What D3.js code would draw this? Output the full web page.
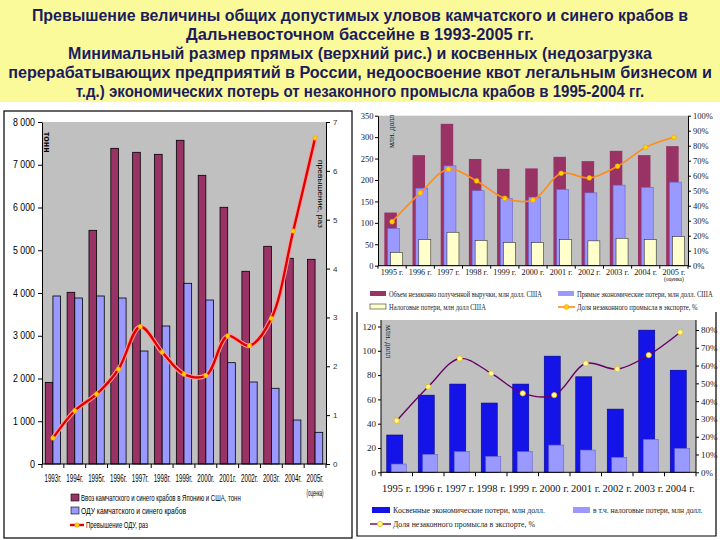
<!DOCTYPE html>
<html>
<head>
<meta charset="utf-8">
<script src="https://cdn.jsdelivr.net/npm/d3@7"></script>
<style>
  body { margin: 0; background: #fff; }
  svg { display: block; }
</style>
</head>
<body>
<svg id="chart" width="720" height="540"></svg>
<script>
// ---------- title
const titleLines = [
  "Превышение величины общих допустимых уловов камчатского и  синего крабов в",
  "Дальневосточном бассейне в 1993-2005 гг.",
  "Минимальный размер прямых (верхний рис.) и косвенных (недозагрузка",
  "перерабатывающих предприятий в России, недоосвоение квот легальным бизнесом и",
  "т.д.) экономических потерь от незаконного промысла крабов  в 1995-2004 гг."
];

// ---------- left chart: catch vs TAC, 1993-2005
const yearsA = ["1993г.", "1994г.", "1995г.", "1996г.", "1997г.", "1998г.", "1999г.",
  "2000г.", "2001г.", "2002г.", "2003г.", "2004г.", "2005г."];
const importA = [1910, 4016, 5466, 7384, 7291, 7244, 7572, 6753, 6005, 4508, 5092, 4812, 4788];
const tacA = [3930, 3883, 3930, 3883, 2643, 3228, 4227, 3836, 2370, 1918, 1771, 1029, 741];
const excessA = [0.53, 1.09, 1.43, 1.94, 2.81, 2.29, 1.84, 1.81, 2.62, 2.42, 2.98, 4.77, 6.67];
const legendA = [
  "Ввоз камчатского и синего крабов в Японию и США, тонн",
  "ОДУ камчатского и синего крабов",
  "Превышение ОДУ, раз"
];

// ---------- top right chart: direct losses, 1995-2005
const yearsB = ["1995 г.", "1996 г.", "1997 г.", "1998 г.", "1999 г.", "2000 г.",
  "2001 г.", "2002 г.", "2003 г.", "2004 г.", "2005 г."];
const revenueB = [124, 258, 331, 249, 226, 227, 254, 244, 268, 258, 279];
const directB = [87, 181, 233, 175, 157, 160, 178, 170, 188, 183, 195];
const taxB = [31, 61, 78, 59, 54, 54, 61, 58, 64, 61, 68];
const shareB = [29.3, 48.5, 64.3, 56.5, 44.9, 43.8, 61.6, 58.5, 66.3, 78.9, 85.6];
const legendB = [
  "Объем незаконно полученной выручки, млн долл. США",
  "Прямые экономические потери, млн долл. США",
  "Налоговые потери, млн долл США",
  "Доля незаконного промысла в экспорте, %"
];

// ---------- bottom right chart: indirect losses, 1995-2004
const yearsC = ["1995 г.", "1996 г.", "1997 г.", "1998 г.", "1999 г.", "2000 г.",
  "2001 г.", "2002 г.", "2003 г.", "2004 г."];
const indirectC = [30.7, 63.5, 72.6, 57, 72.6, 95.6, 78.6, 52, 117, 84];
const taxC = [6.8, 14.8, 17, 13.1, 17, 22.4, 18.3, 12.3, 27.1, 19.7];
const shareC = [29, 48.1, 64, 55.6, 44.4, 43.4, 61.2, 58, 65.9, 78.7];
const legendC = [
  "Косвенные экономические потери, млн долл.",
  "в т.ч. налоговые потери, млн долл.",
  "Доля незаконного промысла в экспорте, %"
];

const svg = d3.select("#chart");
const SANS = "'Liberation Sans', Arial, sans-serif";
const SERIF = "'Liberation Serif', 'Times New Roman', serif";

// squeeze a text horizontally to a given width (keeps its height)
function fit(sel, w) {
  sel.each(function () {
    const t = d3.select(this);
    const len = this.getComputedTextLength();
    if (!len) return;
    const k = w / len;
    const x = +t.attr("x") || 0, y = +t.attr("y") || 0;
    const tr = t.attr("transform") || "";
    t.attr("x", 0).attr("y", 0)
      .attr("transform", `${tr} translate(${x},${y}) scale(${k},1)`);
  });
}

// ================= title block
svg.append("rect").attr("width", 720).attr("height", 102).attr("fill", "#fafa9b");
const titleW = [657, 348, 584, 704, 569];
titleLines.forEach(function (t, i) {
  svg.append("text")
    .attr("x", 360).attr("y", 20.5 + i * 19)
    .attr("text-anchor", "middle")
    .attr("font-family", SANS).attr("font-weight", "bold").attr("font-size", 16)
    .attr("fill", "#1c1c5c")
    .text(t)
    .call(fit, titleW[i]);
});

// ================= left chart
const c1 = { l: 42, r: 326, t: 122, b: 464 };
const g1 = svg.append("g");
g1.append("rect").attr("x", 4).attr("y", 111).attr("width", 348).attr("height", 427)
  .attr("fill", "#fff").attr("stroke", "#000").attr("stroke-width", 1.2);
g1.append("rect").attr("x", c1.l).attr("y", c1.t)
  .attr("width", c1.r - c1.l).attr("height", c1.b - c1.t).attr("fill", "#c0c0c0");

const x1 = d3.scaleBand().domain(yearsA).range([c1.l, c1.r]).paddingInner(0.3).paddingOuter(0.15);
const y1 = d3.scaleLinear().domain([0, 8000]).range([c1.b, c1.t]);
const yR1 = d3.scaleLinear().domain([0, 7]).range([c1.b, c1.t]);
const bw1 = x1.bandwidth();
const cx1 = i => x1(yearsA[i]) + bw1 / 2;

g1.selectAll(".imp").data(importA).join("rect")
  .attr("x", (d, i) => x1(yearsA[i]))
  .attr("y", d => y1(d))
  .attr("width", bw1 / 2)
  .attr("height", d => c1.b - y1(d))
  .attr("fill", "#993366").attr("stroke", "#000").attr("stroke-width", 0.8);
g1.selectAll(".tac").data(tacA).join("rect")
  .attr("x", (d, i) => x1(yearsA[i]) + bw1 / 2)
  .attr("y", d => y1(d))
  .attr("width", bw1 / 2)
  .attr("height", d => c1.b - y1(d))
  .attr("fill", "#9999ff").attr("stroke", "#000").attr("stroke-width", 0.8);

const line1 = d3.line().x((d, i) => cx1(i)).y(d => yR1(d)).curve(d3.curveCatmullRom);
g1.append("path").attr("d", line1(excessA)).attr("fill", "none")
  .attr("stroke", "#ff9c9c").attr("stroke-width", 4.5);
g1.append("path").attr("d", line1(excessA)).attr("fill", "none")
  .attr("stroke", "#e00000").attr("stroke-width", 2.4);
g1.selectAll(".mk").data(excessA).join("circle")
  .attr("cx", (d, i) => cx1(i)).attr("cy", d => yR1(d)).attr("r", 2.2)
  .attr("fill", "#ffd400").attr("stroke", "#ff9900").attr("stroke-width", 0.6);

// left axis
const ax1 = g1.append("g").attr("transform", `translate(${c1.l},0)`)
  .call(d3.axisLeft(y1).tickValues(d3.range(0, 8001, 1000)).tickSize(4).tickSizeOuter(0)
    .tickFormat(d => d3.format(",")(d).replace(",", " ")));
ax1.selectAll("text").attr("font-family", SANS).attr("font-size", 10).attr("fill", "#000")
  .each(function (d) { d3.select(this).call(fit, d > 0 ? 22 : 5); });
ax1.selectAll("path,line").attr("stroke", "#000");

// right axis
const axR1 = g1.append("g").attr("transform", `translate(${c1.r},0)`)
  .call(d3.axisRight(yR1).ticks(7).tickSize(4).tickSizeOuter(0).tickPadding(3));
axR1.selectAll("text").attr("font-family", SANS).attr("font-size", 8).attr("fill", "#333");
axR1.selectAll("path,line").attr("stroke", "#000");

// x axis
g1.append("line").attr("x1", c1.l).attr("x2", c1.r).attr("y1", c1.b).attr("y2", c1.b).attr("stroke", "#000");
d3.range(yearsA.length + 1).forEach(function (i) {
  const xx = cx1(0) - x1.step() / 2 + i * x1.step();
  g1.append("line").attr("x1", xx).attr("x2", xx).attr("y1", c1.b).attr("y2", c1.b + 4).attr("stroke", "#000");
});
g1.selectAll(".xl").data(yearsA).join("text")
  .attr("x", (d, i) => cx1(i)).attr("y", 482)
  .attr("text-anchor", "middle").attr("font-family", SANS).attr("font-size", 10)
  .text(d => d).call(fit, 17);
g1.append("text").attr("x", cx1(12)).attr("y", 496).attr("text-anchor", "middle")
  .attr("font-family", SANS).attr("font-size", 9).text("(оценка)").call(fit, 17);

// unit labels
g1.append("text").attr("transform", "translate(44,132) rotate(90)")
  .attr("font-family", SANS).attr("font-size", 9).attr("font-weight", "bold").text("тонн");
g1.append("text").attr("transform", "translate(318,194) rotate(90)")
  .attr("text-anchor", "middle").attr("font-family", SANS).attr("font-size", 8)
  .text("превышение, раз").call(fit, 68);

// legend
const lgA = [{ y: 498, fill: "#993366", w: 160 }, { y: 511, fill: "#9999ff", w: 105 }];
lgA.forEach(function (l, i) {
  g1.append("rect").attr("x", 71).attr("y", l.y - 4).attr("width", 8).attr("height", 7)
    .attr("fill", l.fill).attr("stroke", "#000").attr("stroke-width", 0.6);
  g1.append("text").attr("x", 81).attr("y", l.y + 3).attr("font-family", SANS)
    .attr("font-size", 9).text(legendA[i]).call(fit, l.w);
});
g1.append("line").attr("x1", 70).attr("x2", 84).attr("y1", 525).attr("y2", 525)
  .attr("stroke", "#e00000").attr("stroke-width", 2.4);
g1.append("circle").attr("cx", 77).attr("cy", 525).attr("r", 2.2)
  .attr("fill", "#ffd400").attr("stroke", "#ff9900").attr("stroke-width", 0.6);
g1.append("text").attr("x", 86).attr("y", 528).attr("font-family", SANS)
  .attr("font-size", 9).text(legendA[2]).call(fit, 62);

// ================= bottom right chart (frame first, top chart overlaps it)
const c3 = { l: 381, r: 696, t: 320, b: 472.3 };
const g3 = svg.append("g");
g3.append("path").attr("d", "M357,300V536H716V300").attr("fill", "none")
  .attr("stroke", "#000").attr("stroke-width", 1.2);
g3.append("rect").attr("x", c3.l).attr("y", c3.t)
  .attr("width", c3.r - c3.l).attr("height", c3.b - c3.t).attr("fill", "#c0c0c0");

const x3 = d3.scaleBand().domain(yearsC).range([c3.l, c3.r]);
const y3 = d3.scaleLinear().domain([0, 120]).range([c3.b, 326.5]);
const yP3 = d3.scaleLinear().domain([0, 80]).range([c3.b, 330]);
const cx3 = i => x3(yearsC[i]) + x3.bandwidth() / 2;

g3.selectAll(".ind").data(indirectC).join("rect")
  .attr("x", (d, i) => cx3(i) - 10).attr("y", d => y3(d))
  .attr("width", 16).attr("height", d => c3.b - y3(d))
  .attr("fill", "#1414e8").attr("stroke", "#00008a").attr("stroke-width", 0.6);
g3.selectAll(".tx").data(taxC).join("rect")
  .attr("x", (d, i) => cx3(i) - 5.5).attr("y", d => y3(d))
  .attr("width", 15).attr("height", d => c3.b - y3(d))
  .attr("fill", "#9999ff").attr("stroke", "#6464c8").attr("stroke-width", 0.6);

const line3 = d3.line().x((d, i) => cx3(i)).y(d => yP3(d)).curve(d3.curveCatmullRom);
g3.append("path").attr("d", line3(shareC)).attr("fill", "none")
  .attr("stroke", "#660066").attr("stroke-width", 1.4);
g3.selectAll(".mk3").data(shareC).join("circle")
  .attr("cx", (d, i) => cx3(i)).attr("cy", d => yP3(d)).attr("r", 2.6)
  .attr("fill", "#ffff99").attr("stroke", "#f0b400").attr("stroke-width", 0.8);

const ax3 = g3.append("g").attr("transform", `translate(${c3.l},0)`)
  .call(d3.axisLeft(y3).tickValues(d3.range(0, 121, 20)).tickSize(3).tickSizeOuter(0).tickPadding(2));
ax3.select(".domain").attr("d", `M-0,${c3.t}V${c3.b}`);
const axR3 = g3.append("g").attr("transform", `translate(${c3.r},0)`)
  .call(d3.axisRight(yP3).tickValues(d3.range(0, 81, 10)).tickSize(3).tickSizeOuter(0).tickPadding(2)
    .tickFormat(d => d + "%"));
axR3.select(".domain").attr("d", `M0,${c3.t}V${c3.b}`);
[ax3, axR3].forEach(function (a) {
  a.selectAll("text").attr("font-family", SERIF).attr("font-size", 9).attr("fill", "#222");
  a.selectAll("path,line").attr("stroke", "#000");
});
g3.append("line").attr("x1", c3.l).attr("x2", c3.r).attr("y1", c3.b).attr("y2", c3.b).attr("stroke", "#000");
d3.range(yearsC.length + 1).forEach(function (i) {
  const xx = c3.l + i * x3.step();
  g3.append("line").attr("x1", xx).attr("x2", xx).attr("y1", c3.b).attr("y2", c3.b + 4).attr("stroke", "#000");
});
g3.selectAll(".xl3").data(yearsC).join("text")
  .attr("x", (d, i) => cx3(i)).attr("y", 492).attr("text-anchor", "middle")
  .attr("font-family", SERIF).attr("font-size", 10.5).attr("fill", "#111").text(d => d);
g3.append("text").attr("transform", "translate(386,325) rotate(90)")
  .attr("font-family", SERIF).attr("font-size", 8).attr("fill", "#111").text("млн. долл");

// legend
g3.append("rect").attr("x", 372).attr("y", 507).attr("width", 18).attr("height", 6).attr("fill", "#1414e8");
g3.append("text").attr("x", 393).attr("y", 513).attr("font-family", SERIF).attr("font-size", 9)
  .attr("fill", "#222").text(legendC[0]).call(fit, 152);
g3.append("rect").attr("x", 573).attr("y", 507).attr("width", 17).attr("height", 6).attr("fill", "#9999ff");
g3.append("text").attr("x", 593).attr("y", 513).attr("font-family", SERIF).attr("font-size", 9)
  .attr("fill", "#222").text(legendC[1]).call(fit, 110);
g3.append("line").attr("x1", 370).attr("x2", 391).attr("y1", 524).attr("y2", 524)
  .attr("stroke", "#660066").attr("stroke-width", 1.4);
g3.append("circle").attr("cx", 380).attr("cy", 524).attr("r", 2.6)
  .attr("fill", "#ffff99").attr("stroke", "#f0b400").attr("stroke-width", 0.8);
g3.append("text").attr("x", 393).attr("y", 527).attr("font-family", SERIF).attr("font-size", 9)
  .attr("fill", "#222").text(legendC[2]).call(fit, 142);

// ================= top right chart
const c2 = { l: 378, r: 688, t: 115.7, b: 265.7 };
const g2 = svg.append("g");
g2.append("rect").attr("x", 356).attr("y", 104).attr("width", 364).attr("height", 208).attr("fill", "#fff");
g2.append("rect").attr("x", c2.l).attr("y", c2.t)
  .attr("width", c2.r - c2.l).attr("height", c2.b - c2.t).attr("fill", "#c0c0c0");

const x2 = d3.scaleBand().domain(yearsB).range([c2.l, c2.r]);
const y2 = d3.scaleLinear().domain([0, 350]).range([c2.b, c2.t]);
const yP2 = d3.scaleLinear().domain([0, 100]).range([c2.b, c2.t]);
const cx2 = i => x2(yearsB[i]) + x2.bandwidth() / 2;

const barsB = [
  { data: revenueB, off: -1.5, w: 12.5, fill: "#993366", stroke: "none" },
  { data: directB, off: 1.5, w: 12, fill: "#9999ff", stroke: "#6464c8" },
  { data: taxB, off: 4.5, w: 12, fill: "#ffffcc", stroke: "#333" }
];
barsB.forEach(function (s) {
  g2.append("g").selectAll("rect").data(s.data).join("rect")
    .attr("x", (d, i) => cx2(i) + s.off - s.w / 2).attr("y", d => y2(d))
    .attr("width", s.w).attr("height", d => c2.b - y2(d))
    .attr("fill", s.fill).attr("stroke", s.stroke).attr("stroke-width", 0.6);
});

const line2 = d3.line().x((d, i) => cx2(i)).y(d => yP2(d)).curve(d3.curveCatmullRom);
g2.append("path").attr("d", line2(shareB)).attr("fill", "none")
  .attr("stroke", "#ff8c1a").attr("stroke-width", 1.6);
g2.selectAll(".mk2").data(shareB).join("circle")
  .attr("cx", (d, i) => cx2(i)).attr("cy", d => yP2(d)).attr("r", 2.4)
  .attr("fill", "#ffd400").attr("stroke", "#ff9900").attr("stroke-width", 0.6);

const ax2 = g2.append("g").attr("transform", `translate(${c2.l},0)`)
  .call(d3.axisLeft(y2).tickValues(d3.range(0, 351, 50)).tickSize(3).tickSizeOuter(0).tickPadding(1.5));
const axR2 = g2.append("g").attr("transform", `translate(${c2.r},0)`)
  .call(d3.axisRight(yP2).tickValues(d3.range(0, 101, 10)).tickSize(3).tickSizeOuter(0).tickPadding(2)
    .tickFormat(d => d + "%"));
[ax2, axR2].forEach(function (a) {
  a.selectAll("text").attr("font-family", SERIF).attr("font-size", 8.5).attr("fill", "#222");
  a.selectAll("path,line").attr("stroke", "#000");
});
g2.append("line").attr("x1", c2.l).attr("x2", c2.r).attr("y1", c2.b).attr("y2", c2.b).attr("stroke", "#000");
d3.range(yearsB.length + 1).forEach(function (i) {
  const xx = c2.l + i * x2.step();
  g2.append("line").attr("x1", xx).attr("x2", xx).attr("y1", c2.b).attr("y2", c2.b + 3).attr("stroke", "#000");
});
g2.selectAll(".xl2").data(yearsB).join("text")
  .attr("x", (d, i) => cx2(i)).attr("y", 274.5).attr("text-anchor", "middle")
  .attr("font-family", SERIF).attr("font-size", 8.2).attr("fill", "#111").text(d => d);
g2.append("text").attr("x", cx2(10)).attr("y", 280.5).attr("text-anchor", "middle")
  .attr("font-family", SERIF).attr("font-size", 5.5).attr("fill", "#111").text("(оценка)");
g2.append("text").attr("transform", "translate(394,148) rotate(-90)")
  .attr("font-family", SERIF).attr("font-size", 8).attr("fill", "#111").text("млн. долл");

// legend
const lgB = [
  { x: 370, y: 294, kind: "rect", fill: "#993366", w: 153 },
  { x: 558, y: 294, kind: "rect", fill: "#9999ff", w: 136 },
  { x: 370, y: 307, kind: "rect", fill: "#ffffcc", w: 97 },
  { x: 558, y: 307, kind: "line", fill: "#ff8c1a", w: 121 }
];
lgB.forEach(function (l, i) {
  if (l.kind === "rect") {
    g2.append("rect").attr("x", l.x).attr("y", l.y - 3).attr("width", 16).attr("height", 5)
      .attr("fill", l.fill).attr("stroke", i === 2 ? "#333" : "none").attr("stroke-width", 0.6);
  } else {
    g2.append("line").attr("x1", l.x).attr("x2", l.x + 17).attr("y1", l.y).attr("y2", l.y)
      .attr("stroke", l.fill).attr("stroke-width", 1.6);
    g2.append("circle").attr("cx", l.x + 8.5).attr("cy", l.y).attr("r", 2.4)
      .attr("fill", "#ffd400").attr("stroke", "#ff9900").attr("stroke-width", 0.6);
  }
  g2.append("text").attr("x", l.x + 19).attr("y", l.y + 3).attr("font-family", SERIF)
    .attr("font-size", 8.5).attr("fill", "#222").text(legendB[i]).call(fit, l.w);
});
</script>
</body>
</html>
